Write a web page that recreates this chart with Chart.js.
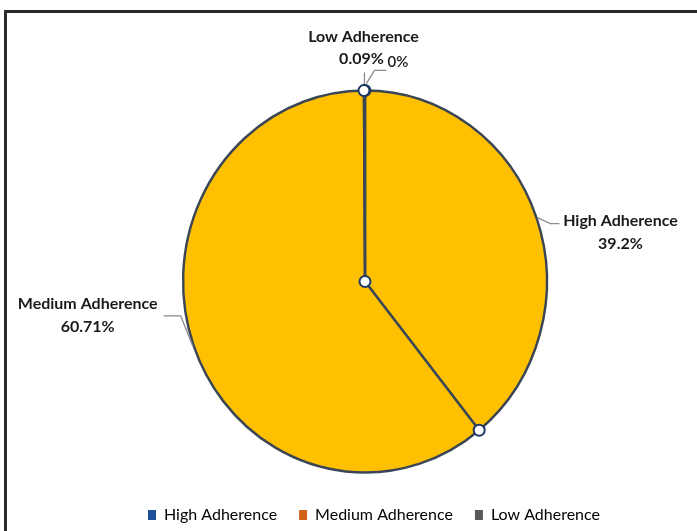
<!DOCTYPE html>
<html>
<head>
<meta charset="utf-8">
<script src="https://cdn.jsdelivr.net/npm/chart.js@4.4.0/dist/chart.umd.min.js"></script>
<style>
  html, body { margin: 0; padding: 0; background: #fff; }
  #wrap { position: relative; width: 697px; height: 531px; overflow: hidden; }
  #frame {
    position: absolute; left: 4px; top: 10px; right: -10px; bottom: -10px;
    border-top: 3px solid #2b2b2b; border-left: 3px solid #2b2b2b;
  }
  canvas { position: absolute; left: 0; top: 0; }
</style>
</head>
<body>
<div id="wrap">
  <div id="frame"></div>
  <canvas id="adherence" width="697" height="531"></canvas>
</div>
<script>
// adherence split
var categories = ['High Adherence', 'Medium Adherence', 'Low Adherence'];
var shares = [39.2, 60.71, 0.09];
var shareLabels = ['39.2%', '60.71%', '0.09%'];
var extraLowLabel = '0%';

var sliceColor = '#FFC000';
var legendColors = ['#1F4E9A', '#D2601A', '#595959'];
var edgeColor = '#3A4655';

// pie is drawn slightly oval and nudged left of the legend centre
var oval = { sx: 0.978, sy: 1.027, shiftX: -9 };

// where each label block sits relative to the slice's outer midpoint
var labelLayout = [
  { dx: 83, dy: 14, leader: [[13, 6], [22, 6]] },
  { dx: -105, dy: -31, leader: [[-12, -30], [-29, -30]] },
  { dx: -1, dy: -41, leader: [[0, -17]] }
];

var fontFamily = 'Lato, "Open Sans", sans-serif';
var labelFont = 'bold 16px ' + fontFamily;

function pieCentre(chart) {
  var p = chart.getDatasetMeta(0).data[0].getProps(['x', 'y'], true);
  return p;
}

// chart coords -> drawn coords once the oval transform is applied
function toScreen(c, x, y) {
  return [c.x + oval.shiftX + (x - c.x) * oval.sx, c.y + (y - c.y) * oval.sy];
}

var decorations = {
  id: 'decorations',
  beforeDatasetsDraw: function (chart) {
    var ctx = chart.ctx;
    var c = pieCentre(chart);
    ctx.save();
    ctx.translate(c.x + oval.shiftX, c.y);
    ctx.scale(oval.sx, oval.sy);
    ctx.translate(-c.x, -c.y);
  },
  afterDatasetsDraw: function (chart) {
    var ctx = chart.ctx;
    ctx.restore();

    var arcs = chart.getDatasetMeta(0).data;
    var c = pieCentre(chart);
    ctx.save();

    // leader lines + labels
    arcs.forEach(function (arc, i) {
      var p = arc.getProps(['x', 'y', 'startAngle', 'endAngle', 'outerRadius'], true);
      var mid = (p.startAngle + p.endAngle) / 2;
      var a = toScreen(c, p.x + Math.cos(mid) * (p.outerRadius + 1),
                          p.y + Math.sin(mid) * (p.outerRadius + 1));
      var ax = a[0], ay = a[1];
      var lay = labelLayout[i];

      ctx.strokeStyle = '#8c8c8c';
      ctx.lineWidth = 1.3;
      ctx.beginPath();
      ctx.moveTo(ax, ay);
      lay.leader.forEach(function (pt) { ctx.lineTo(ax + pt[0], ay + pt[1]); });
      ctx.stroke();

      var cx = ax + lay.dx, cy = ay + lay.dy;
      ctx.fillStyle = '#1a1a1a';
      ctx.font = labelFont;
      ctx.textAlign = 'center';
      ctx.textBaseline = 'middle';
      if (i === 2) {
        ctx.fillText(categories[i], cx, cy - 12);
        ctx.fillText(shareLabels[i], cx - 2, cy + 10);
        // second small label off to the right
        ctx.beginPath();
        ctx.moveTo(ax + 2, ay - 6);
        ctx.lineTo(ax + 10, ay - 19);
        ctx.lineTo(ax + 22, ay - 19);
        ctx.stroke();
        ctx.font = '600 15px ' + fontFamily;
        ctx.textAlign = 'left';
        ctx.fillText(extraLowLabel, ax + 23, ay - 27);
      } else {
        ctx.fillText(categories[i], cx, cy - 11);
        ctx.fillText(shareLabels[i], cx, cy + 12);
      }
    });

    // round markers at the centre and at each slice start
    var spots = [toScreen(c, c.x, c.y)];
    arcs.forEach(function (arc) {
      var p = arc.getProps(['x', 'y', 'startAngle', 'outerRadius'], true);
      spots.push(toScreen(c, p.x + Math.cos(p.startAngle) * p.outerRadius,
                             p.y + Math.sin(p.startAngle) * p.outerRadius));
    });
    spots.forEach(function (s) {
      ctx.beginPath();
      ctx.arc(s[0], s[1], 5.5, 0, Math.PI * 2);
      ctx.fillStyle = '#ffffff';
      ctx.fill();
      ctx.lineWidth = 2;
      ctx.strokeStyle = '#1F3864';
      ctx.stroke();
    });
    ctx.restore();
  }
};

new Chart(document.getElementById('adherence'), {
  type: 'pie',
  data: {
    labels: categories,
    datasets: [{
      data: shares,
      backgroundColor: sliceColor,
      borderColor: edgeColor,
      borderWidth: 2.5
    }]
  },
  options: {
    responsive: false,
    animation: false,
    radius: 186,
    layout: { padding: { top: 78, left: 51, right: 0, bottom: -2 } },
    plugins: {
      tooltip: { enabled: false },
      legend: {
        position: 'bottom',
        labels: {
          boxWidth: 8,
          boxHeight: 10,
          padding: 22,
          color: '#3a3a3a',
          font: { family: fontFamily, size: 16 },
          generateLabels: function (chart) {
            return categories.map(function (name, i) {
              return {
                text: name,
                fillStyle: legendColors[i],
                strokeStyle: legendColors[i],
                lineWidth: 0,
                index: i
              };
            });
          }
        }
      }
    }
  },
  plugins: [decorations]
});
</script>
</body>
</html>
